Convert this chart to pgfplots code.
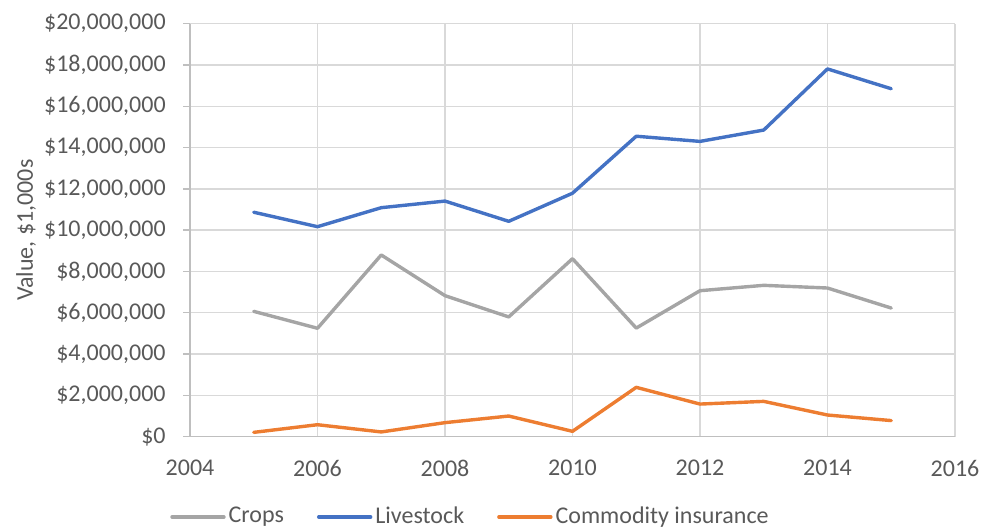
\documentclass[border=0pt]{standalone}
\usepackage{fontspec}
\setmainfont{Carlito}
\usepackage{pgfplots}
\pgfplotsset{compat=1.18}

\definecolor{cropsgray}{HTML}{A5A5A5}
\definecolor{livestockblue}{HTML}{4472C4}
\definecolor{insorange}{HTML}{ED7D31}
\definecolor{gridgray}{HTML}{D9D9D9}
\definecolor{axisgray}{HTML}{BFBFBF}
\definecolor{textgray}{HTML}{595959}

\begin{document}
\fontsize{12pt}{14pt}\selectfont
\begin{tikzpicture}
\useasboundingbox (-95pt,-46.15pt) rectangle (396pt,218.35pt);
\begin{axis}[
  at={(0pt,0pt)}, anchor=south west,
  scale only axis,
  width=382.5pt, height=206.5pt,
  xmin=2004, xmax=2016,
  ymin=0, ymax=20000000,
  xtick={2004,2006,...,2016},
  xticklabels={2004,2006,2008,2010,2012,2014,2016},
  ytick={0,2000000,...,20000000},
  yticklabels={{\$0},{\$2,000,000},{\$4,000,000},{\$6,000,000},{\$8,000,000},{\$10,000,000},{\$12,000,000},{\$14,000,000},{\$16,000,000},{\$18,000,000},{\$20,000,000}},
  scaled y ticks=false,
  axis lines*=left,
  axis line style={draw=axisgray, line width=0.7pt},
  x axis line style={-},
  y axis line style={-},
  grid=major,
  major grid style={draw=gridgray, line width=0.7pt},
  major tick length=3.5pt,
  tick style={draw=axisgray, line width=0.7pt},
  xtick style={draw=none},
  tick align=outside,
  ticklabel style={font=\fontsize{12pt}{14pt}\selectfont, text=textgray, inner sep=0pt},
  yticklabel style={anchor=east, xshift=-8.5pt},
  xticklabel style={anchor=north, yshift=-8.1pt},
  /pgf/number format/assume math mode=true,
  every axis y label/.style={at={(axis description cs:0,0.5)}, xshift=-82pt, rotate=90, anchor=center},
  ylabel={Value, \$1,000s},
  label style={font=\fontsize{12pt}{14pt}\selectfont, text=textgray},
  clip=false,
  legend columns=3,
  legend style={
    at={(axis description cs:0.3673,-0.1944)}, anchor=center,
    draw=none, fill=none,
    font=\fontsize{12pt}{14pt}\selectfont, text=textgray,
    nodes={inner sep=1.5pt},
    /tikz/every even column/.append style={column sep=15pt},
  },
  legend image code/.code={\draw[#1] (0pt,0pt) -- (26pt,0pt);},
  every axis plot/.append style={line width=1.7pt, line join=round, line cap=round},
]
\addplot[cropsgray] coordinates {
  (2005,6070000) (2006,5250000) (2007,8800000) (2008,6830000) (2009,5800000)
  (2010,8620000) (2011,5260000) (2012,7070000) (2013,7330000) (2014,7200000)
  (2015,6230000)
};
\addlegendentry{Crops}
\addplot[livestockblue] coordinates {
  (2005,10870000) (2006,10170000) (2007,11090000) (2008,11410000) (2009,10430000)
  (2010,11790000) (2011,14550000) (2012,14300000) (2013,14850000) (2014,17810000)
  (2015,16850000)
};
\addlegendentry{Livestock}
\addplot[insorange] coordinates {
  (2005,210000) (2006,580000) (2007,230000) (2008,680000) (2009,1000000)
  (2010,260000) (2011,2390000) (2012,1580000) (2013,1710000) (2014,1050000)
  (2015,780000)
};
\addlegendentry{Commodity insurance}
\end{axis}
\end{tikzpicture}
\end{document}
